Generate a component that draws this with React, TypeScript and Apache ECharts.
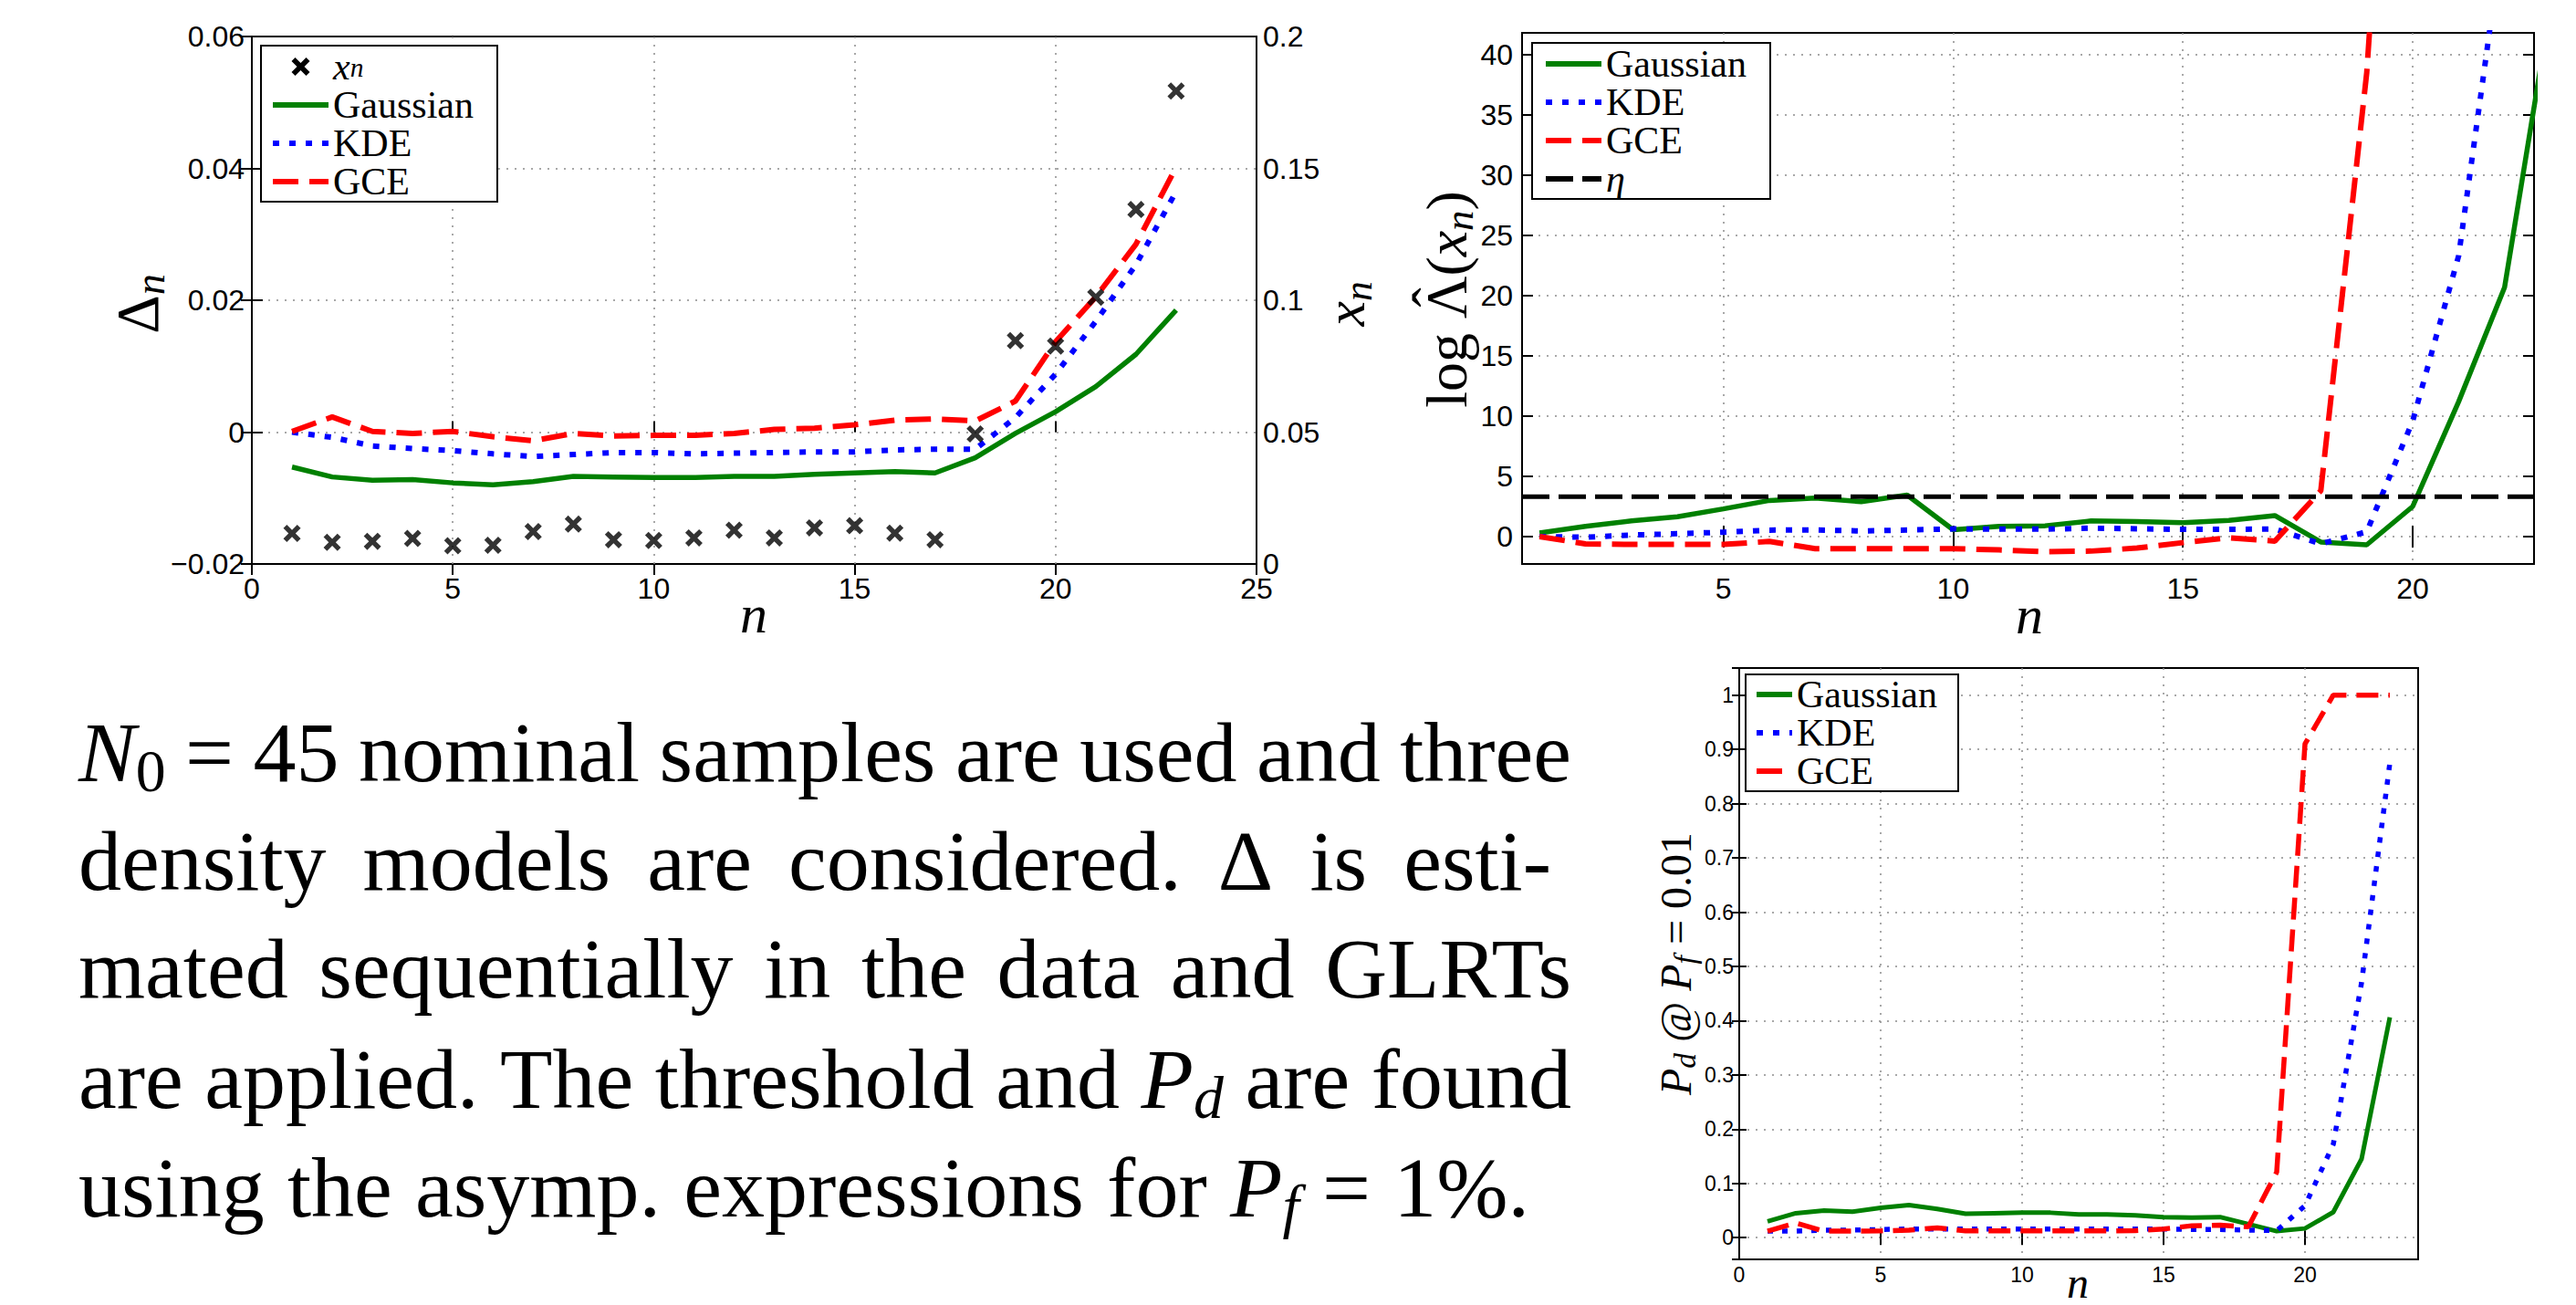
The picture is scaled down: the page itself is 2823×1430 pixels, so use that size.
import React, { useEffect, useRef } from "react";
import * as echarts from "echarts";

// ---------------- data ----------------
const N = [1, 2, 3, 4, 5, 6, 7, 8, 9, 10, 11, 12, 13, 14, 15, 16, 17, 18, 19, 20, 21, 22, 23];

// top-left: Delta_n (left axis) and x_n (right axis)
const D_GAUSS = [-0.0053, -0.0068, -0.0073, -0.0072, -0.0077, -0.008, -0.0075, -0.0067, -0.0068, -0.0069, -0.0069, -0.0067, -0.0067, -0.0064, -0.0062, -0.006, -0.0062, -0.0039, -0.0002, 0.0031, 0.0069, 0.0118, 0.0185];
const D_KDE = [0, -0.0008, -0.0021, -0.0025, -0.0028, -0.0033, -0.0037, -0.0034, -0.0031, -0.0031, -0.0033, -0.0032, -0.0031, -0.003, -0.003, -0.0027, -0.0026, -0.0026, 0.0022, 0.0088, 0.0168, 0.0254, 0.0365];
const D_GCE = [0.0001, 0.0023, 0.0001, -0.0002, 0.0001, -0.0007, -0.0013, -0.0002, -0.0006, -0.0005, -0.0005, -0.0002, 0.0004, 0.0006, 0.0011, 0.0018, 0.002, 0.0017, 0.0047, 0.0137, 0.0205, 0.0285, 0.0402];
const X_N = [0.0116, 0.0082, 0.0086, 0.0097, 0.0069, 0.0071, 0.0123, 0.0151, 0.0092, 0.0089, 0.0099, 0.0128, 0.0099, 0.0137, 0.0145, 0.0117, 0.0092, 0.0493, 0.0847, 0.0826, 0.1011, 0.1344, 0.1793];

// top-right: log-likelihood ratio
const L_GAUSS = [0.3, 0.85, 1.3, 1.65, 2.3, 3.0, 3.2, 2.9, 3.45, 0.57, 0.85, 0.9, 1.3, 1.25, 1.15, 1.35, 1.75, -0.45, -0.68, 2.5, 11.2, 20.7, 44];
const L_KDE = [0, -0.05, 0.13, 0.24, 0.37, 0.54, 0.55, 0.47, 0.55, 0.64, 0.62, 0.62, 0.7, 0.65, 0.6, 0.6, 0.64, -0.6, 0.4, 9.6, 23.3, 51, 85];
const L_GCE = [0, -0.6, -0.65, -0.65, -0.65, -0.4, -1.0, -1.0, -1.0, -1.0, -1.1, -1.25, -1.2, -0.95, -0.5, -0.1, -0.37, 3.8, 38.5, 95, 140, 180, 220];
const ETA = 3.32;

// bottom-right: Pd @ Pf = 0.01
const P_GAUSS = [0.03, 0.045, 0.05, 0.048, 0.055, 0.06, 0.053, 0.044, 0.045, 0.046, 0.046, 0.043, 0.043, 0.041, 0.038, 0.037, 0.038, 0.025, 0.012, 0.017, 0.047, 0.145, 0.406];
const P_KDE = [0.012, 0.012, 0.014, 0.014, 0.015, 0.016, 0.016, 0.016, 0.016, 0.016, 0.016, 0.016, 0.016, 0.016, 0.016, 0.015, 0.015, 0.014, 0.013, 0.059, 0.172, 0.47, 0.875];
const P_GCE = [0.012, 0.027, 0.012, 0.012, 0.0125, 0.014, 0.018, 0.0125, 0.0125, 0.0125, 0.0125, 0.0125, 0.0125, 0.013, 0.016, 0.022, 0.023, 0.02, 0.121, 0.91, 1.0, 1.0, 1.0];

// axis limits
const X1 = [0, 25];
const Y1L = [-0.02, 0.06];
const Y1R = [0, 0.2];
const X2 = [0.62, 22.64];
const Y2 = [-2.27, 41.8];
const X3 = [0, 24];
const Y3 = [-0.04, 1.05];

// paragraph
type Piece = { t: string; it?: boolean; sub?: boolean; hat?: boolean };
type Word = string | Piece[];
const PARA: Word[][] = [
  [[{ t: "N", it: true }, { t: "0", sub: true }], "=", "45", "nominal", "samples", "are", "used", "and", "three"],
  ["density", "models", "are", "considered.", "\u0394", "is", "esti-"],
  ["mated", "sequentially", "in", "the", "data", "and", "GLRTs"],
  ["are", "applied.", "The", "threshold", "and", [{ t: "P", it: true }, { t: "d", it: true, sub: true }], "are", "found"],
  ["using", "the", "asymp.", "expressions", "for", [{ t: "P", it: true }, { t: "f", it: true, sub: true }], "=", "1%."],
];

const SERIF = "Liberation Serif";
const SANS = "Liberation Sans";
const GREEN = "#008000";
const BLUE = "#0000ff";
const RED = "#ff0000";
const X_PATH = "path://M0,4 L4,0 L10,6 L16,0 L20,4 L14,10 L20,16 L16,20 L10,14 L4,20 L0,16 L6,10 Z";

function toPieces(w: Word): Piece[] {
  return typeof w === "string" ? [{ t: w }] : w;
}

function App() {
  const ref = useRef<HTMLDivElement>(null);
  useEffect(() => {
    if (!ref.current) return;
    const chart = echarts.init(ref.current, null, { renderer: "svg" });
    const ctx = document.createElement("canvas").getContext("2d")!;
    const pSize = (p: Piece, F: number) => (p.sub ? F * 0.7 : F);
    const measure = (p: Piece, F: number) => {
      ctx.font = `${p.it ? "italic " : ""}${pSize(p, F)}px "${SERIF}"`;
      return ctx.measureText(p.t).width;
    };
    const wordW = (w: Word, F: number) => toPieces(w).reduce((s, p) => s + measure(p, F), 0);
    const render = (pieces: Piece[], F: number, x0: number, yc: number, out: any[]) => {
      let x = x0;
      for (const p of pieces) {
        const w = measure(p, F);
        out.push({
          type: "text",
          x,
          y: yc + (p.sub ? 0.22 * F : 0),
          silent: true,
          style: {
            text: p.t,
            fontSize: pSize(p, F),
            fontFamily: SERIF,
            fontStyle: p.it ? "italic" : "normal",
            fill: "#000",
            align: "left",
            verticalAlign: "middle",
          },
        });
        if (p.hat) {
          out.push({
            type: "text",
            x: x + w / 2,
            y: yc - 0.22 * F,
            silent: true,
            style: { text: "\u02c6", fontSize: F, fontFamily: SERIF, fill: "#000", align: "center", verticalAlign: "middle" },
          });
        }
        x += w;
      }
      return x - x0;
    };
    const label = (pieces: Piece[], F: number, cx: number, cy: number, rotated: boolean) => {
      const total = pieces.reduce((s, p) => s + measure(p, F), 0);
      const kids: any[] = [];
      render(pieces, F, -total / 2, 0, kids);
      return { type: "group", x: cx, y: cy, rotation: rotated ? Math.PI / 2 : 0, silent: true, children: kids };
    };

    const elements: any[] = [];
    // paragraph (justified)
    const LEFT = 86;
    const RIGHTS = [1722, 1700, 1722, 1722, 1676];
    const BASES = [856, 975, 1093, 1214, 1333];
    let F = 94;
    let shrink = 1;
    PARA.forEach((line, i) => {
      const need = line.reduce((s, w) => s + wordW(w, F), 0) + (line.length - 1) * 0.18 * F;
      shrink = Math.min(shrink, (RIGHTS[i] - LEFT) / need);
    });
    F = F * shrink;
    PARA.forEach((line, i) => {
      const ws = line.map((w) => wordW(w, F));
      const sum = ws.reduce((a, b) => a + b, 0);
      const gap = (RIGHTS[i] - LEFT - sum) / (line.length - 1);
      let x = LEFT;
      const yc = BASES[i] - 0.34 * F;
      line.forEach((w, j) => {
        render(toPieces(w), F, x, yc, elements);
        x += ws[j] + gap;
      });
    });

    // axis names
    elements.push(label([{ t: "\u0394" }, { t: "n", it: true, sub: true }], 66, 150, 333, true));
    elements.push(label([{ t: "x", it: true }, { t: "n", it: true, sub: true }], 62, 1474, 333, true));
    elements.push(label([{ t: "n", it: true }], 60, 826, 673, false));
    elements.push(
      label(
        [{ t: "log " }, { t: "\u039b", hat: true }, { t: "(" }, { t: "x", it: true }, { t: "n", it: true, sub: true }, { t: ")" }],
        64,
        1585,
        328,
        true
      )
    );
    elements.push(label([{ t: "n", it: true }], 60, 2224, 674, false));
    elements.push(
      label(
        [{ t: "P", it: true }, { t: "d", it: true, sub: true }, { t: " @ " }, { t: "P", it: true }, { t: "f", it: true, sub: true }, { t: " = 0.01" }],
        48,
        1836,
        1056,
        true
      )
    );
    elements.push(label([{ t: "n", it: true }], 48, 2277, 1405, false));

    const fmt = (v: number) => {
      const r = Math.round(v * 10000) / 10000;
      if (r === 0) return "0";
      return (r < 0 ? "\u2212" : "") + String(Math.abs(r));
    };
    const tick = (len: number) => ({ show: true, inside: true, length: len, lineStyle: { color: "#000", width: 2 } });
    const split = {
      show: true,
      showMinLine: false,
      showMaxLine: false,
      lineStyle: { color: "#8c8c8c", width: 1.5, type: [2, 7] },
    };
    const lbl = (size: number, margin: number, extra: any = {}) => ({
      show: true,
      fontFamily: SANS,
      fontSize: size,
      lineHeight: Math.round(size * 0.75),
      color: "#000",
      margin,
      formatter: fmt,
      ...extra,
    });
    const off = { show: false };
    const gridBase = {
      show: true,
      borderColor: "#000",
      borderWidth: 2,
      backgroundColor: "transparent",
      containLabel: false,
      outerBoundsMode: "none",
    };

    const xAxis = [
      { type: "value", gridIndex: 0, position: "bottom", min: X1[0], max: X1[1], interval: 5, axisLine: off, axisTick: tick(12), axisLabel: lbl(32, 15, { showMinLabel: true, showMaxLabel: true }), splitLine: split },
      { type: "value", gridIndex: 0, position: "top", min: X1[0], max: X1[1], interval: 5, axisLine: off, axisTick: tick(12), axisLabel: off, splitLine: off },
      { type: "value", gridIndex: 1, position: "bottom", min: X2[0], max: X2[1], minInterval: 5, maxInterval: 5, axisLine: off, axisTick: tick(12), axisLabel: lbl(32, 15, { showMinLabel: false, showMaxLabel: false }), splitLine: split },
      { type: "value", gridIndex: 1, position: "top", min: X2[0], max: X2[1], minInterval: 5, maxInterval: 5, axisLine: off, axisTick: tick(12), axisLabel: off, splitLine: off },
      { type: "value", gridIndex: 2, position: "bottom", min: X3[0], max: X3[1], interval: 5, axisLine: off, axisTick: tick(8), axisLabel: lbl(23, 8, { showMinLabel: true, showMaxLabel: false }), splitLine: split },
      { type: "value", gridIndex: 2, position: "top", min: X3[0], max: X3[1], interval: 5, axisLine: off, axisTick: tick(8), axisLabel: off, splitLine: off },
    ];
    const yAxis = [
      { type: "value", gridIndex: 0, position: "left", min: Y1L[0], max: Y1L[1], interval: 0.02, axisLine: off, axisTick: tick(12), axisLabel: lbl(32, 8, { showMinLabel: true, showMaxLabel: true }), splitLine: split },
      { type: "value", gridIndex: 0, position: "right", min: Y1R[0], max: Y1R[1], interval: 0.05, axisLine: off, axisTick: tick(12), axisLabel: lbl(32, 7, { showMinLabel: true, showMaxLabel: true }), splitLine: off },
      { type: "value", gridIndex: 1, position: "left", min: Y2[0], max: Y2[1], minInterval: 5, maxInterval: 5, axisLine: off, axisTick: tick(12), axisLabel: lbl(32, 10, { showMinLabel: false, showMaxLabel: false }), splitLine: split },
      { type: "value", gridIndex: 1, position: "right", min: Y2[0], max: Y2[1], minInterval: 5, maxInterval: 5, axisLine: off, axisTick: tick(12), axisLabel: off, splitLine: off },
      { type: "value", gridIndex: 2, position: "left", min: Y3[0], max: Y3[1], minInterval: 0.1, maxInterval: 0.1, axisLine: off, axisTick: tick(8), axisLabel: lbl(23, 6, { showMinLabel: false, showMaxLabel: false }), splitLine: split },
      { type: "value", gridIndex: 2, position: "right", min: Y3[0], max: Y3[1], minInterval: 0.1, maxInterval: 0.1, axisLine: off, axisTick: tick(8), axisLabel: off, splitLine: off },
    ];

    const line = (name: string, xi: number, yi: number, ys: number[], color: string, type: any, width: number) => ({
      type: "line",
      name,
      xAxisIndex: xi,
      yAxisIndex: yi,
      data: N.map((n, i) => [n, ys[i]]),
      symbol: "none",
      showSymbol: false,
      clip: true,
      silent: true,
      lineStyle: { color, width, type, cap: "butt" },
      itemStyle: { color },
      emphasis: { disabled: true },
      z: 3,
    });

    const series: any[] = [
      {
        type: "scatter",
        name: "x_n",
        xAxisIndex: 0,
        yAxisIndex: 1,
        data: N.map((n, i) => [n, X_N[i]]),
        symbol: X_PATH,
        symbolSize: 19,
        itemStyle: { color: "#000" },
        silent: true,
        z: 4,
      },
      line("Gaussian", 0, 0, D_GAUSS, GREEN, "solid", 5.5),
      line("KDE", 0, 0, D_KDE, BLUE, [7, 11], 6),
      line("GCE", 0, 0, D_GCE, RED, [28, 12], 6),
      line("Gaussian", 2, 2, L_GAUSS, GREEN, "solid", 5.5),
      line("KDE", 2, 2, L_KDE, BLUE, [7, 11], 6),
      line("GCE", 2, 2, L_GCE, RED, [28, 12], 6),
      {
        type: "line",
        name: "\u03b7",
        xAxisIndex: 2,
        yAxisIndex: 2,
        data: [[X2[0], ETA], [X2[1], ETA]],
        symbol: "none",
        showSymbol: false,
        silent: true,
        lineStyle: { color: "#000", width: 5, type: [30, 10], cap: "butt" },
        itemStyle: { color: "#000" },
        z: 3,
      },
      line("Gaussian", 4, 4, P_GAUSS, GREEN, "solid", 5),
      line("KDE", 4, 4, P_KDE, BLUE, [6, 10], 5.5),
      line("GCE", 4, 4, P_GCE, RED, [24, 11], 5.5),
    ];

    const legendCfg = (left: number, top: number, names: string[], itemWidth: number, lh: number, pad: number[], fs: number) => ({
      show: true,
      orient: "vertical",
      left,
      top,
      padding: pad,
      itemGap: 0,
      itemWidth,
      itemHeight: 20,
      selectedMode: false,
      borderColor: "#000",
      borderWidth: 2,
      borderRadius: 0,
      backgroundColor: "#fff",
      data: names.map((n) =>
        n === "x_n"
          ? { name: n, itemStyle: { opacity: 1, color: "#000" } }
          : { name: n, itemStyle: { opacity: 0 } }
      ),
      lineStyle: { width: 6 },
      formatter: (n: string) => (n === "x_n" ? "{i|x}{s|n}" : n === "\u03b7" ? "{i|\u03b7}" : n),
      textStyle: {
        fontFamily: SERIF,
        fontSize: fs,
        color: "#000",
        lineHeight: lh,
        rich: {
          i: { fontFamily: SERIF, fontSize: fs, fontStyle: "italic", color: "#000", lineHeight: lh },
          s: { fontFamily: SERIF, fontSize: fs * 0.7, fontStyle: "italic", color: "#000", lineHeight: 8, verticalAlign: "bottom" },
        },
      },
      z: 10,
    });

    const option: any = {
      animation: false,
      backgroundColor: "#fff",
      grid: [
        { ...gridBase, left: 276, top: 40, width: 1101, height: 578 },
        { ...gridBase, left: 1668, top: 36, width: 1109, height: 582 },
        { ...gridBase, left: 1906, top: 732, width: 744, height: 648 },
      ],
      xAxis,
      yAxis,
      legend: [
        legendCfg(286, 50, ["x_n", "Gaussian", "KDE", "GCE"], 61, 30.5, [2, 26, 1, 10], 42),
        legendCfg(1679, 47, ["Gaussian", "KDE", "GCE", "\u03b7"], 61, 31, [2, 26, 1, 12], 42),
        legendCfg(1913, 739, ["Gaussian", "KDE", "GCE"], 39, 31.5, [1, 23, 1, 9], 42),
      ],
      series,
      graphic: { elements },
    };
    chart.setOption(option);
    return () => chart.dispose();
  }, []);
  return <div ref={ref} style={{ position: "fixed", left: 0, top: 0, width: 2823, height: 1430, background: "#fff" }} />;
}

export default App;
